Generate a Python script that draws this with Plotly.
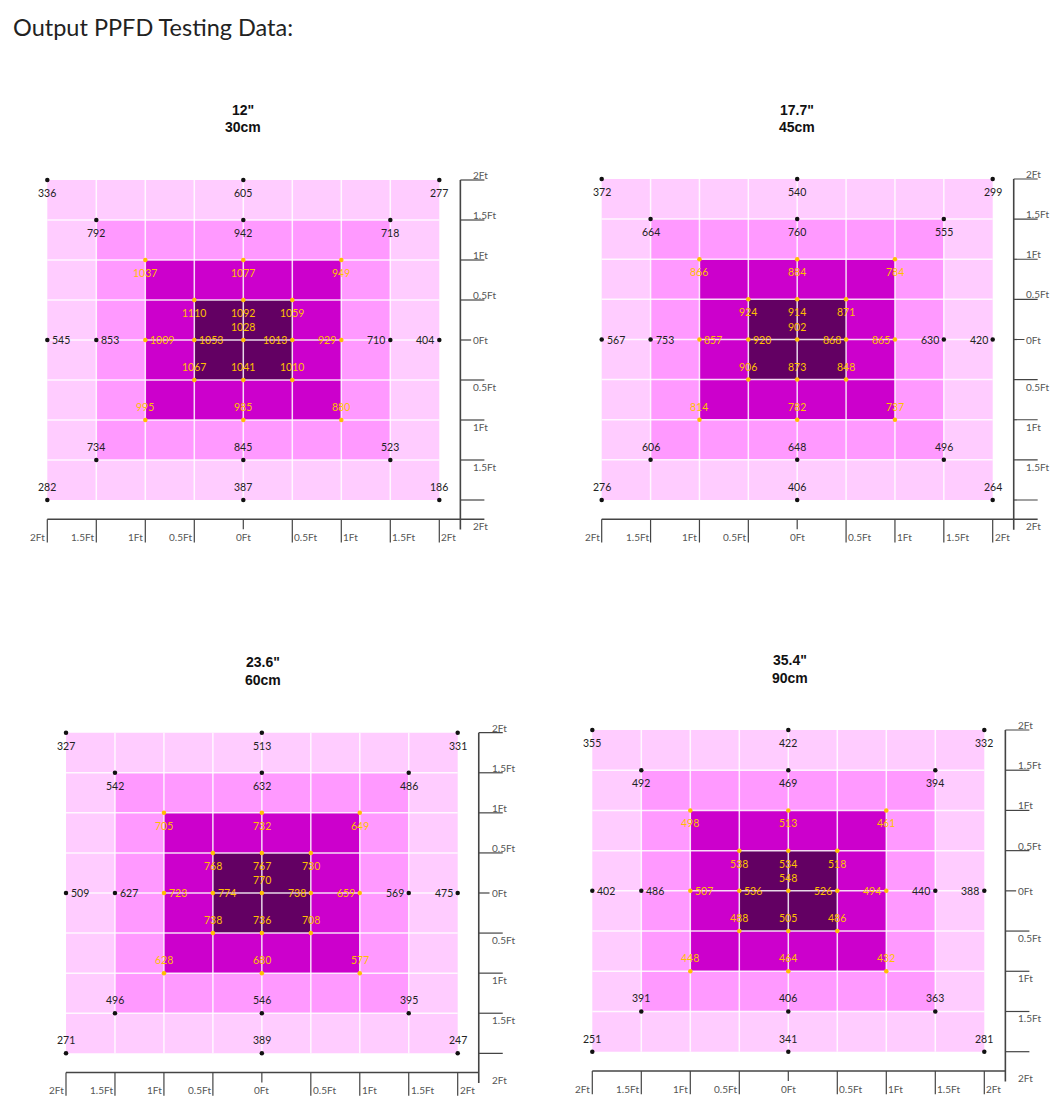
import plotly.graph_objects as go

W, H = 1060, 1115

PAGE_TITLE = "Output PPFD Testing Data:"
HEIGHT_IN = ['12"', '17.7"', '23.6"', '35.4"']
HEIGHT_CM = ["30cm", "45cm", "60cm", "90cm"]

# measurement positions (ft), row by row from top to bottom
POS_X = [-2, 0, 2,
         -1.5, 0, 1.5,
         -1, 0, 1,
         -0.5, 0, 0.5,
         -2, -1.5, -1, -0.5, 0, 0.5, 1, 1.5, 2,
         -0.5, 0, 0.5,
         -1, 0, 1,
         -1.5, 0, 1.5,
         -2, 0, 2]
POS_Y = [2, 2, 2,
         1.5, 1.5, 1.5,
         1, 1, 1,
         0.5, 0.5, 0.5,
         0, 0, 0, 0, 0, 0, 0, 0, 0,
         -0.5, -0.5, -0.5,
         -1, -1, -1,
         -1.5, -1.5, -1.5,
         -2, -2, -2]

PPFD_30CM = [336, 605, 277,
             792, 942, 718,
             1037, 1077, 949,
             1110, 1092, 1059,
             545, 853, 1009, 1053, 1028, 1013, 929, 710, 404,
             1067, 1041, 1010,
             995, 985, 880,
             734, 845, 523,
             282, 387, 186]
PPFD_45CM = [372, 540, 299,
             664, 760, 555,
             866, 884, 784,
             924, 914, 871,
             567, 753, 857, 920, 902, 868, 865, 630, 420,
             906, 873, 848,
             814, 782, 737,
             606, 648, 496,
             276, 406, 264]
PPFD_60CM = [327, 513, 331,
             542, 632, 486,
             705, 732, 649,
             768, 767, 730,
             509, 627, 723, 774, 770, 738, 659, 569, 475,
             738, 736, 708,
             628, 680, 577,
             496, 546, 395,
             271, 389, 247]
PPFD_90CM = [355, 422, 332,
             492, 469, 394,
             498, 513, 461,
             538, 534, 518,
             402, 486, 507, 536, 548, 526, 494, 440, 388,
             488, 505, 486,
             448, 464, 432,
             391, 406, 363,
             251, 341, 281]

GRID_POS = [-2, -1.5, -1, -0.5, 0, 0.5, 1, 1.5, 2]
GRID_LABELS = ["2Ft", "1.5Ft", "1Ft", "0.5Ft", "0Ft", "0.5Ft", "1Ft", "1.5Ft", "2Ft"]

RING_HALF = [2, 1.5, 1, 0.5]
RING_COLORS = ["#FFCCFF", "#FF99FF", "#CC00CC", "#630063"]

# ---------------- layout helpers ----------------
XR = [-2.35, 2.65]
YR = [-2.75, 2.35]
AX_X = 2.215      # right axis position (ft)
AX_Y = -2.24      # bottom axis position (ft)
TICK_LX = 0.245   # right-axis tick length (ft)
TICK_LY = 0.29    # bottom-axis tick length (ft)

panels = [
    dict(vals=PPFD_30CM, box=(47.3, 439.3, 180, 500), tpos=(243, 110, 127), ext=True),
    dict(vals=PPFD_45CM, box=(601.7, 992.7, 179, 500), tpos=(797, 110, 127), ext=True),
    dict(vals=PPFD_60CM, box=(66, 457.7, 732.7, 1053.3), tpos=(263, 662, 680), ext=False),
    dict(vals=PPFD_90CM, box=(592.3, 984.3, 730, 1051.7), tpos=(790, 660, 678), ext=False),
]

FONT = "Lato, 'Open Sans', sans-serif"
AXIS_COL = "#444444"
YEL = "#FFC000"

fig = go.Figure()
shapes = []
annotations = []
layout_axes = {}

for i, p in enumerate(panels):
    n = i + 1
    xa = "x" if n == 1 else f"x{n}"
    ya = "y" if n == 1 else f"y{n}"
    L, R, T, B = p["box"]
    sx = (R - L) / 4.0
    sy = (B - T) / 4.0
    x0 = L + (XR[0] + 2) * sx
    x1 = L + (XR[1] + 2) * sx
    ytop = T - (YR[1] - 2) * sy
    ybot = B + (-2 - YR[0]) * sy
    kx = "xaxis" if n == 1 else f"xaxis{n}"
    ky = "yaxis" if n == 1 else f"yaxis{n}"
    layout_axes[kx] = dict(domain=[x0 / W, x1 / W], range=XR, visible=False,
                           anchor=ya, fixedrange=True)
    layout_axes[ky] = dict(domain=[1 - ybot / H, 1 - ytop / H], range=YR, visible=False,
                           anchor=xa, fixedrange=True)

    # coloured rings
    for h, c in zip(RING_HALF, RING_COLORS):
        shapes.append(dict(type="rect", xref=xa, yref=ya, x0=-h, x1=h, y0=-h, y1=h,
                           fillcolor=c, line=dict(width=0), layer="below"))
    # white grid lines
    for g in GRID_POS[1:-1]:
        shapes.append(dict(type="line", xref=xa, yref=ya, x0=g, x1=g, y0=-2, y1=2,
                           line=dict(color="rgba(255,255,255,0.85)", width=1.5), layer="below"))
        shapes.append(dict(type="line", xref=xa, yref=ya, x0=-2, x1=2, y0=g, y1=g,
                           line=dict(color="rgba(255,255,255,0.85)", width=1.5), layer="below"))

    # right axis
    shapes.append(dict(type="line", xref=xa, yref=ya, x0=AX_X, x1=AX_X, y0=2, y1=AX_Y - 0.13,
                       line=dict(color=AXIS_COL, width=1.6)))
    for g, lab in zip(GRID_POS[::-1], GRID_LABELS):
        if g == 0:
            shapes.append(dict(type="line", xref=xa, yref=ya, x0=AX_X, x1=AX_X + 0.11, y0=0, y1=0,
                               line=dict(color=AXIS_COL, width=1.2)))
            annotations.append(dict(xref=xa, yref=ya, x=AX_X + 0.11, y=0, text=lab,
                                    xanchor="left", yanchor="middle", showarrow=False,
                                    font=dict(family=FONT, size=10, color="#555555")))
            continue
        shapes.append(dict(type="line", xref=xa, yref=ya, x0=AX_X, x1=AX_X + TICK_LX, y0=g, y1=g,
                           line=dict(color=AXIS_COL, width=1.2)))
        if g > 0:
            annotations.append(dict(xref=xa, yref=ya, x=AX_X + 0.11, y=g, text=lab,
                                    xanchor="left", yanchor="bottom", yshift=-3, showarrow=False,
                                    font=dict(family=FONT, size=10, color="#555555")))
        elif g > -2:
            annotations.append(dict(xref=xa, yref=ya, x=AX_X + 0.11, y=g, text=lab,
                                    xanchor="left", yanchor="top", yshift=1, showarrow=False,
                                    font=dict(family=FONT, size=10, color="#555555")))
    annotations.append(dict(xref=xa, yref=ya, x=AX_X + 0.11, y=AX_Y, text=GRID_LABELS[-1],
                            xanchor="left", yanchor="top", yshift=1, showarrow=False,
                            font=dict(family=FONT, size=10, color="#555555")))

    # bottom axis
    xend = AX_X + TICK_LX if p["ext"] else AX_X
    shapes.append(dict(type="line", xref=xa, yref=ya, x0=-2, x1=xend, y0=AX_Y, y1=AX_Y,
                       line=dict(color=AXIS_COL, width=1.6)))
    for g, lab in zip(GRID_POS, GRID_LABELS):
        tl = 0.125 if g == 0 else TICK_LY
        shapes.append(dict(type="line", xref=xa, yref=ya, x0=g, x1=g, y0=AX_Y, y1=AX_Y - tl,
                           line=dict(color=AXIS_COL, width=1.2)))
        if g < 0:
            xan = "right"
        elif g > 0:
            xan = "left"
        else:
            xan = "center"
        annotations.append(dict(xref=xa, yref=ya, x=g, y=AX_Y - 0.22, text=lab,
                                xanchor=xan, yanchor="middle", showarrow=False,
                                font=dict(family=FONT, size=10, color="#555555")))

    # measurement points
    cols = []
    for x, y in zip(POS_X, POS_Y):
        cols.append("#111111" if max(abs(x), abs(y)) >= 1.5 else YEL)
    fig.add_trace(go.Scatter(x=POS_X, y=POS_Y, mode="markers", xaxis=xa, yaxis=ya,
                             marker=dict(size=4.5, color=cols), showlegend=False,
                             hoverinfo="skip"))
    for x, y, v, c in zip(POS_X, POS_Y, p["vals"], cols):
        tc = "#222222" if c != YEL else YEL
        a = dict(xref=xa, yref=ya, x=x, y=y, text=str(v), showarrow=False,
                 font=dict(family=FONT, size=10.5, color=tc))
        if y > 0:
            a.update(xanchor="center", yanchor="middle", yshift=-13)
        elif y < 0:
            a.update(xanchor="center", yanchor="middle", yshift=13)
        else:
            if x < 0:
                a.update(xanchor="left", yanchor="middle", xshift=3)
            elif x > 0:
                a.update(xanchor="right", yanchor="middle", xshift=-3)
            else:
                a.update(xanchor="center", yanchor="middle", yshift=13)
        annotations.append(a)

    # panel titles
    tx, ty1, ty2 = p["tpos"]
    for txt, ty in ((HEIGHT_IN[i], ty1), (HEIGHT_CM[i], ty2)):
        annotations.append(dict(xref="paper", yref="paper", x=tx / W, y=1 - ty / H, text=f"<b>{txt}</b>",
                                xanchor="center", yanchor="middle", showarrow=False,
                                font=dict(family="'Liberation Sans', Arial, sans-serif", size=14,
                                          color="#111111")))

annotations.append(dict(xref="paper", yref="paper", x=11 / W, y=1 - 27 / H, text=PAGE_TITLE,
                        xanchor="left", yanchor="middle", showarrow=False,
                        font=dict(family=FONT, size=23.5, color="#222222")))

fig.update_layout(width=W, height=H, margin=dict(l=0, r=0, t=0, b=0),
                  paper_bgcolor="white", plot_bgcolor="white",
                  shapes=shapes, annotations=annotations, **layout_axes)

fig.write_html("out.html")
